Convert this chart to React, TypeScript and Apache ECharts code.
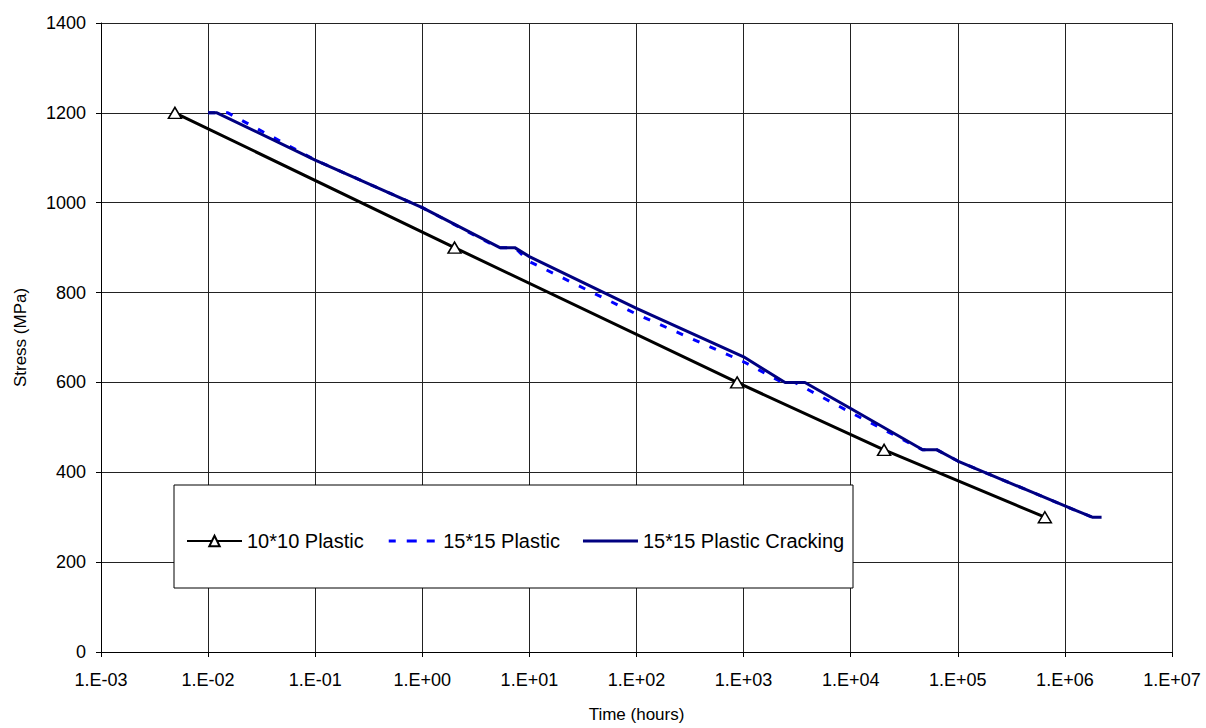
import React, { useEffect, useRef } from "react";
import * as echarts from "echarts";

// 10*10 Plastic
const t10: number[] = [4.9e-3, 2.0, 870, 2.05e4, 6.5e5];
const s10: number[] = [1200, 900, 600, 450, 300];

// 15*15 Plastic (dashed)
const tP: number[] = [1.0e-2, 1.53e-2, 0.1, 1, 5.1, 7.3, 10, 100, 1000, 2300, 3000, 1e4, 4.7e4, 6.4e4, 1e5, 1e6, 1.8e6, 2.2e6];
const sP: number[] = [1200, 1200, 1095, 989, 900, 900, 869, 752, 646, 600, 600, 533, 450, 450, 425, 325, 300, 300];

// 15*15 Plastic Cracking
const tC: number[] = [1.0e-2, 1.21e-2, 0.1, 1, 5.3, 7.3, 10, 100, 1000, 2440, 3740, 1e4, 4.7e4, 6.4e4, 1e5, 1e6, 1.8e6, 2.2e6];
const sC: number[] = [1200, 1200, 1095, 989, 900, 900, 880, 765, 657, 600, 600, 542, 450, 450, 425, 325, 300, 300];

const seriesNames = ["10*10 Plastic", "15*15 Plastic", "15*15 Plastic Cracking"];
const xMin = 1e-3;
const xMax = 1e7;
const yMin = 0;
const yMax = 1400;
const yStep = 200;

const FONT = "'Liberation Sans', Arial, sans-serif";

// legend icons (55 x 13 box): solid bar and dashed bar
const ICON_SOLID = "path://M0,0L0,13Z M0,5H55V8H0Z";
const ICON_DASHED = "path://M0,0L0,13Z M2,5H9V8H2Z M20,5H30V8H20Z M40,5H48V8H40Z";

function fmtExp(v: number): string {
  const e = Math.round(Math.log10(v));
  const sign = e < 0 ? "-" : "+";
  const a = Math.abs(e);
  return `1.E${sign}${a < 10 ? "0" + a : a}`;
}

function zip(xs: number[], ys: number[]): number[][] {
  return xs.map((x, i) => [x, ys[i]]);
}

export default function App() {
  const ref = useRef<HTMLDivElement>(null);
  useEffect(() => {
    if (!ref.current) return;
    const chart = echarts.init(ref.current, null, { renderer: "svg" });
    chart.setOption({
      animation: false,
      backgroundColor: "#fff",
      textStyle: { fontFamily: FONT, color: "#000" },
      grid: { left: 101, right: 34, top: 23, bottom: 72, containLabel: false },
      graphic: [
        {
          type: "rect",
          z: 3,
          shape: { x: 174, y: 485, width: 679, height: 103 },
          style: { fill: "#fff", stroke: "#000", lineWidth: 1 },
        },
      ],
      legend: {
        data: [
          { name: seriesNames[0] },
          { name: seriesNames[1], icon: ICON_DASHED, itemStyle: { color: "#0000ff" } },
          { name: seriesNames[2], icon: ICON_SOLID, itemStyle: { color: "#000080" } },
        ],
        left: 181,
        top: 526,
        itemWidth: 55,
        itemHeight: 13,
        itemGap: 23,
        z: 5,
        textStyle: { fontFamily: FONT, fontSize: 20, color: "#000" },
      },
      xAxis: {
        type: "log",
        logBase: 10,
        min: xMin,
        max: xMax,
        interval: 1,
        splitNumber: 10,
        name: "Time (hours)",
        nameLocation: "middle",
        nameGap: 54,
        nameTextStyle: { fontFamily: FONT, fontSize: 17, color: "#000" },
        axisLine: { show: true, lineStyle: { color: "#000", width: 1 } },
        axisTick: { show: true, inside: false, length: 5, lineStyle: { color: "#000" } },
        minorTick: { show: false },
        axisLabel: {
          formatter: (v: number) => fmtExp(v),
          fontFamily: FONT,
          fontSize: 18,
          color: "#000",
          margin: 19,
        },
        splitLine: { show: true, lineStyle: { color: "#222", width: 1 } },
      },
      yAxis: {
        type: "value",
        min: yMin,
        max: yMax,
        interval: yStep,
        name: "Stress (MPa)",
        nameLocation: "middle",
        nameGap: 72,
        nameTextStyle: { fontFamily: FONT, fontSize: 17, color: "#000" },
        axisLine: { show: true, lineStyle: { color: "#000", width: 1 } },
        axisTick: { show: true, inside: false, length: 5, lineStyle: { color: "#000" } },
        axisLabel: {
          formatter: (v: number) => String(v),
          fontFamily: FONT,
          fontSize: 18,
          color: "#000",
          margin: 15,
        },
        splitLine: { show: true, lineStyle: { color: "#222", width: 1 } },
      },
      series: [
        {
          name: seriesNames[0],
          type: "line",
          data: zip(t10, s10),
          symbol: "triangle",
          symbolSize: [13, 11],
          showSymbol: true,
          lineStyle: { color: "#000", width: 3 },
          itemStyle: { color: "#fff", borderColor: "#000", borderWidth: 1.5 },
          z: 2,
        },
        {
          name: seriesNames[1],
          type: "line",
          data: zip(tP, sP),
          symbol: "none",
          lineStyle: { color: "#0000ff", width: 3, type: [7, 11] },
          itemStyle: { color: "#0000ff" },
          z: 2,
        },
        {
          name: seriesNames[2],
          type: "line",
          data: zip(tC, sC),
          symbol: "none",
          lineStyle: { color: "#000080", width: 3 },
          itemStyle: { color: "#000080" },
          z: 2,
        },
      ],
    });
    return () => chart.dispose();
  }, []);
  return (
    <div
      ref={ref}
      style={{ position: "fixed", left: 0, top: 0, width: 1206, height: 728 }}
    />
  );
}
